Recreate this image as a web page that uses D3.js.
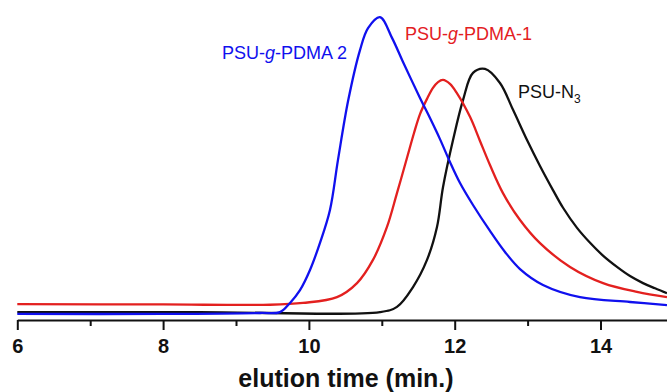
<!DOCTYPE html>
<html>
<head>
<meta charset="utf-8">
<script src="https://cdn.jsdelivr.net/npm/d3@7/dist/d3.min.js"></script>
<style>
  html, body { margin: 0; padding: 0; background: #fff; }
  svg { display: block; }
  text { font-family: "Liberation Sans", Arial, Helvetica, sans-serif; }
</style>
</head>
<body>
<svg id="chart" width="667" height="392"></svg>
<script>
// elution time (min.) and detector signal (arbitrary units)
const timeBlack = [6.0, 8.5, 10.975, 11.208, 11.428, 11.62, 11.757, 11.84, 11.977, 12.114, 12.251, 12.416, 12.621, 12.8, 12.992, 13.17, 13.348, 13.486, 13.678, 13.857, 14.034, 14.226, 14.405, 14.583, 14.748, 14.912];
const signalBlack = [2.6, 2.6, 2.6, 4.3, 10.8, 19.7, 30.5, 43.6, 59.0, 72.1, 81.0, 82.3, 77.7, 68.9, 59.0, 50.5, 42.6, 36.8, 30.2, 25.3, 21.1, 17.4, 14.4, 12.1, 10.4, 8.8];

const timeRed = [6.0, 8.0, 9.467, 9.919, 10.385, 10.66, 10.879, 11.071, 11.208, 11.345, 11.442, 11.524, 11.62, 11.702, 11.771, 11.839, 11.935, 12.03, 12.21, 12.347, 12.484, 12.662, 12.896, 13.17, 13.582, 14.035, 14.501, 14.912];
const signalRed = [5.2, 5.1, 5.0, 5.6, 7.5, 12.1, 19.7, 30.5, 41.6, 53.1, 61.3, 67.5, 72.5, 76.1, 78.0, 78.7, 77.4, 74.4, 66.6, 58.7, 50.8, 41.6, 32.8, 25.2, 17.4, 12.1, 9.2, 7.5];

const timeBlue = [6.0, 8.0, 9.33, 9.604, 9.741, 9.878, 10.015, 10.152, 10.289, 10.399, 10.54, 10.701, 10.811, 10.975, 11.14, 11.291, 11.524, 11.661, 11.798, 11.935, 12.073, 12.251, 12.484, 12.69, 12.896, 13.211, 13.719, 14.405, 14.912];
const signalBlue = [2.0, 2.0, 2.3, 2.6, 5.6, 9.8, 16.4, 25.3, 36.1, 52.5, 72.1, 88.5, 95.7, 99.3, 92.5, 84.6, 72.8, 66.2, 59.3, 51.8, 44.9, 37.7, 29.2, 22.3, 16.7, 11.5, 7.5, 5.9, 4.9];

const majorTicks = [6, 8, 10, 12, 14];
const minorTicks = [7, 9, 11, 13];
const xLabel = "elution time (min.)";

const seriesNames = ["PSU-N", "PSU-g-PDMA-1", "PSU-g-PDMA 2"];
const seriesColors = ["#111111", "#e3201f", "#1010ee"];
// label anchors in data units (time, signal)
const labelTime = [12.868, 11.318, 8.808];
const labelSignal = [72.8, 91.8, 85.6];

const svg = d3.select("#chart");
const x = d3.scaleLinear().domain([6, 15]).range([17.3, 673.4]);
const y = d3.scaleLinear().domain([0, 100]).range([320, 15]);

const series = [
  { t: timeBlack, v: signalBlack, c: seriesColors[0] },
  { t: timeRed, v: signalRed, c: seriesColors[1] },
  { t: timeBlue, v: signalBlue, c: seriesColors[2] }
];

const line = d3.line().x(d => x(d[0])).y(d => y(d[1])).curve(d3.curveCatmullRom.alpha(0.5));

series.forEach(s => {
  svg.append("path")
    .datum(s.t.map((t, i) => [t, s.v[i]]))
    .attr("d", line)
    .attr("fill", "none")
    .attr("stroke", s.c)
    .attr("stroke-width", 2.3)
    .attr("stroke-linejoin", "round");
});

// minor ticks
const minorAxis = d3.axisBottom(x).tickValues(minorTicks).tickSize(6).tickFormat("");
const gMinor = svg.append("g").attr("transform", `translate(0,${y(0)})`).call(minorAxis);
gMinor.select(".domain").remove();
gMinor.selectAll("line").attr("stroke", "#111").attr("stroke-width", 2);

// major axis
const majorAxis = d3.axisBottom(x).tickValues(majorTicks).tickSize(10).tickSizeOuter(0).tickPadding(9).tickFormat(d3.format("d"));
const gMajor = svg.append("g").attr("transform", `translate(0,${y(0)})`).call(majorAxis);
gMajor.select(".domain").attr("stroke", "#111").attr("stroke-width", 2.2);
gMajor.selectAll("line").attr("stroke", "#111").attr("stroke-width", 2);
gMajor.selectAll("text")
  .attr("fill", "#111")
  .style("font-family", "'Liberation Sans', Arial, sans-serif")
  .style("font-size", "20px")
  .style("font-weight", "bold");

svg.append("text")
  .attr("x", 346)
  .attr("y", 387)
  .attr("text-anchor", "middle")
  .attr("fill", "#111")
  .style("font-size", "25px")
  .style("font-weight", "bold")
  .text(xLabel);

// series labels
const tb = svg.append("text")
  .attr("x", x(labelTime[0])).attr("y", y(labelSignal[0]))
  .attr("fill", seriesColors[0]).style("font-size", "18px");
tb.append("tspan").text(seriesNames[0]);
tb.append("tspan").attr("dy", 5).style("font-size", "12px").text("3");

function gLabel(i) {
  const parts = seriesNames[i].split("g");
  const t = svg.append("text")
    .attr("x", x(labelTime[i])).attr("y", y(labelSignal[i]))
    .attr("fill", seriesColors[i]).style("font-size", "18px");
  t.append("tspan").text(parts[0]);
  t.append("tspan").style("font-style", "italic").text("g");
  t.append("tspan").text(parts[1]);
}
gLabel(1);
gLabel(2);
</script>
</body>
</html>
